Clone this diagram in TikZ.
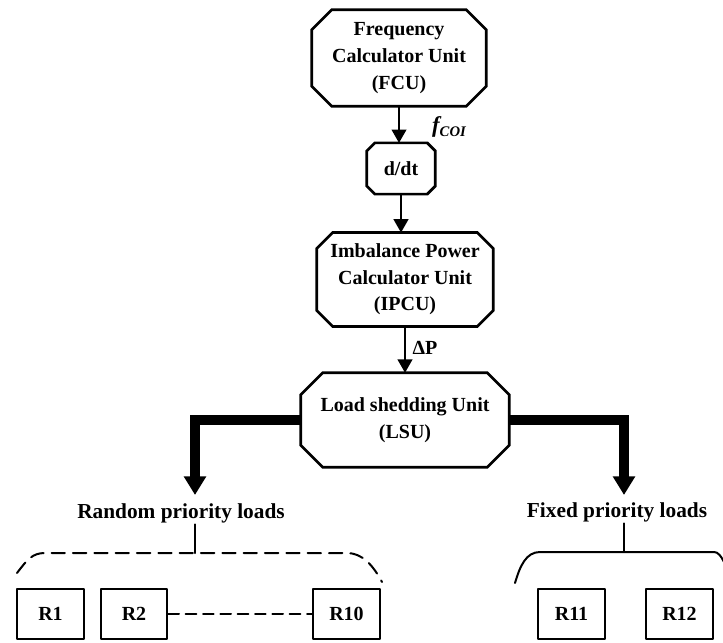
\documentclass[tikz,border=0pt]{standalone}
\usepackage{fontspec}
\setmainfont{Liberation Serif}
\usetikzlibrary{arrows.meta,positioning}
\tikzset{
    unit/.style={
        rectangle, align=center, inner sep=0pt,
        font=\bfseries\fontsize{15}{20}\selectfont
    },
    load/.style={
        draw, line width=1.5pt, fill=white,
        minimum width=50pt, minimum height=38pt, inner sep=0pt,
        font=\bfseries\fontsize{15}{20}\selectfont
    },
    lab/.style={
        inner sep=1pt, font=\bfseries\fontsize{16}{20}\selectfont
    },
    flow/.style={-{Triangle[width=11pt,length=10pt]}, line width=1.5pt, line cap=butt},
    bigflow/.style={-{Triangle[width=16pt,length=14pt]}, line width=7.5pt, line cap=butt, line join=miter}
}
% outline with cut corners round a named node
\newcommand{\cutbox}[2]{%
  \draw[line width=2pt, line join=miter]
    ([xshift=#2]#1.north west) -- ([xshift=-#2]#1.north east)
    -- ([yshift=-#2]#1.north east) -- ([yshift=#2]#1.south east)
    -- ([xshift=-#2]#1.south east) -- ([xshift=#2]#1.south west)
    -- ([yshift=#2]#1.south west) -- ([yshift=-#2]#1.north west) -- cycle;
}

\begin{document}
\begin{tikzpicture}[x=0.75pt,y=-0.75pt, line cap=round, line join=round]
\useasboundingbox (0,0) rectangle (723,642);

% processing chain
\node[unit, minimum width=130.5pt, minimum height=72pt]
      (fcu) at (399,58) {Frequency\\Calculator Unit\\(FCU)};
\node[unit, minimum width=51pt, minimum height=38pt]
      (ddt) at (401,168.5) {d/dt};
\node[unit, minimum width=132pt, minimum height=70pt]
      (ipcu) at (405,279.5) {Imbalance Power\\Calculator Unit\\(IPCU)};
\node[unit, minimum width=156pt, minimum height=70.5pt]
      (lsu) at (405,420) {Load shedding Unit\\(LSU)};

\cutbox{fcu}{15pt}
\cutbox{ddt}{6pt}
\cutbox{ipcu}{12pt}
\cutbox{lsu}{16.5pt}

\draw[flow] (fcu.south) -- (fcu.south |- ddt.north);
\draw[flow] (ddt.south) -- (ddt.south |- ipcu.north);
\draw[flow] (ipcu.south) -- (ipcu.south |- lsu.north);

\node[lab, font=\bfseries\itshape\fontsize{17}{20}\selectfont] (fcoi) at (449,127)
      {f\raisebox{-0.35ex}{\fontsize{11}{11}\selectfont COI}};
\node[lab, font=\bfseries\fontsize{15}{20}\selectfont] (dp) at (425,348) {ΔP};

% LSU outputs
\coordinate (rtip) at (195,495);
\coordinate (ftip) at (624,495);
\draw[bigflow] (lsu.west) -| (rtip);
\draw[bigflow] (lsu.east) -| (ftip);

\node[lab] (rlab) at (181,513) {Random priority loads};
\node[lab] (flab) at (617,512) {Fixed priority loads};

% random priority group
\coordinate (rtop) at (195,553);
\draw[line width=1.5pt] (rtop |- rlab.south) -- (rtop);
\draw[line width=1.5pt, dash pattern=on 10pt off 6pt]
      (17,573) .. controls (27,560) and (32,553) .. (45,553) -- (347,553)
      .. controls (362,553) and (373,565) .. (382,582);

% fixed priority group
\coordinate (ftop) at (624,552);
\draw[line width=1.5pt] (ftop |- flab.south) -- (ftop);
\draw[line width=1.5pt]
      (515,583) .. controls (520,566) and (526,552) .. (540,552) -- (714,552)
      .. controls (718,552) and (721,556) .. (724,562);

% loads
\foreach \name/\x in {R1/50.5, R2/134, R10/346.5, R11/571.5, R12/679.5} {
  \node[load] (\name) at (\x,614) {\name};
}
\draw[line width=1.5pt, dash pattern=on 8pt off 5pt] (R2.east) -- (R10.west);

\end{tikzpicture}
\end{document}
